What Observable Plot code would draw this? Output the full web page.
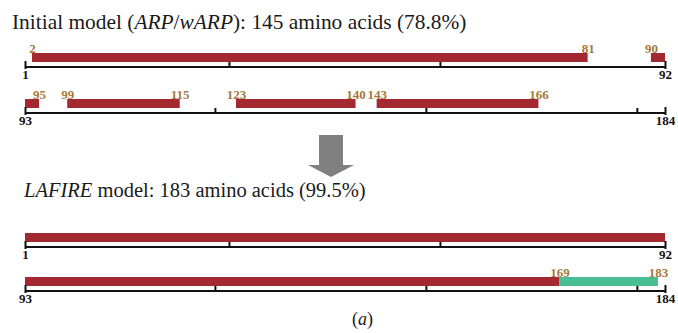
<!DOCTYPE html>
<html>
<head>
<meta charset="utf-8">
<script src="https://cdn.jsdelivr.net/npm/d3@7"></script>
<script src="https://cdn.jsdelivr.net/npm/@observablehq/plot@0.6"></script>
<style>
  html, body { margin: 0; padding: 0; background: #fff; }
  #root { position: relative; width: 678px; height: 333px; overflow: hidden; font-family: "Liberation Serif", "Times New Roman", serif; color: #1a1a1a; }
  #root svg, #root svg text { font-family: "Liberation Serif", "Times New Roman", serif !important; }
  .abs { position: absolute; }
  .title { font-size: 21.4px; line-height: 1; white-space: nowrap; left: 12px; }
  .title2 { font-size: 20.5px; }
  .caption { font-size: 18px; line-height: 1; white-space: nowrap; }
  .shaft { background: #808080; }
  .head { width: 0; height: 0; border-left: 23px solid transparent; border-right: 23px solid transparent; border-top: 12px solid #808080; }
</style>
</head>
<body>
<div id="root"></div>
<script>
// ---------- data ----------
const rowRanges = [[1, 92], [93, 184]];           // residue range of each printed line
const tickMarks = [[30, 60], [120, 150, 180]];     // unlabeled interior ticks per line

// Initial model (ARP/wARP): traced fragments (first, last residue)
const initialStarts = [2, 90, 93, 99, 123, 143];
const initialEnds   = [81, 92, 95, 115, 140, 166];
const initialLabels = [2, 81, 90, 95, 99, 115, 123, 140, 143, 166];

// LAFIRE model
const lafireStarts = [1, 93, 169];
const lafireEnds   = [92, 169, 183];
const lafireKinds  = ["initial", "initial", "added"];
const lafireLabels = [169, 183];

const titleInitial = ["Initial model (", "ARP", "/", "wARP", "): 145 amino acids (78.8%)"];
const titleLafire  = ["LAFIRE", " model: 183 amino acids (99.5%)"];
const captionText  = "a";

// ---------- build ----------
const RED = "#A3282F", GREEN = "#48BE94", GOLD = "#A5783A";
const initialSegs = initialStarts.map((s, i) => ({start: s, end: initialEnds[i], kind: "initial"}));
const lafireSegs = lafireStarts.map((s, i) => ({start: s, end: lafireEnds[i], kind: lafireKinds[i]}));

function rowPlot(range, ticks, segs, labels) {
  const [start, end] = range;
  const inRow = segs.filter(d => d.start >= start && d.end <= end);
  const lab = labels.filter(v => v >= start && v <= end);
  return Plot.plot({
    width: 678, height: 47,
    marginLeft: 25, marginRight: 13, marginTop: 20, marginBottom: 12,
    style: {fontFamily: "Liberation Serif", background: "transparent", overflow: "visible"},
    x: {domain: [start, end]},
    color: {domain: ["initial", "added"], range: [RED, GREEN]},
    marks: [
      Plot.barX([{start, end}], {x1: "start", x2: "end", fill: "#111", insetTop: 13}),
      Plot.barX(inRow, {x1: "start", x2: "end", fill: "kind", insetBottom: 6}),
      Plot.tickX(ticks, {x: d => d, stroke: "#111", strokeWidth: 2, insetTop: 9, insetBottom: 1}),
      Plot.tickX([start, end], {x: d => d, stroke: "#111", strokeWidth: 2, insetTop: 8, insetBottom: -1}),
      Plot.text(lab, {x: d => d, text: d => String(d), frameAnchor: "top", lineAnchor: "bottom", dy: -1,
        fill: GOLD, fontWeight: "bold", fontSize: 13}),
      Plot.axisX({ticks: [start, end], tickSize: 0, tickPadding: 1, fontWeight: "bold", fontSize: 13,
        fill: "#111", label: null})
    ]
  });
}

const root = document.getElementById("root");
function place(el, top, left = 0) {
  const w = document.createElement("div");
  w.className = "abs";
  w.style.top = top + "px";
  w.style.left = left + "px";
  w.appendChild(el);
  root.appendChild(w);
  return w;
}

// Title 1
const t1 = document.createElement("div");
t1.className = "abs title";
t1.style.top = "12px";
titleInitial.forEach((s, i) => {
  const e = document.createElement(i === 1 || i === 3 ? "i" : "span");
  e.textContent = s;
  t1.appendChild(e);
});
root.appendChild(t1);

place(rowPlot(rowRanges[0], tickMarks[0], initialSegs, initialLabels), 33);
place(rowPlot(rowRanges[1], tickMarks[1], initialSegs, initialLabels), 79);

// arrow
const shaft = document.createElement("div");
shaft.className = "abs shaft";
Object.assign(shaft.style, {left: "319px", top: "135px", width: "24px", height: "30px"});
root.appendChild(shaft);
const head = document.createElement("div");
head.className = "abs head";
Object.assign(head.style, {left: "308px", top: "165px"});
root.appendChild(head);

// Title 2
const t2 = document.createElement("div");
t2.className = "abs title title2";
t2.style.top = "180px";
t2.style.left = "24px";
titleLafire.forEach((s, i) => {
  const e = document.createElement(i === 0 ? "i" : "span");
  e.textContent = s;
  t2.appendChild(e);
});
root.appendChild(t2);

place(rowPlot(rowRanges[0], tickMarks[0], lafireSegs, lafireLabels), 213);
place(rowPlot(rowRanges[1], tickMarks[1], lafireSegs, lafireLabels), 257);

// caption
const cap = document.createElement("div");
cap.className = "abs caption";
Object.assign(cap.style, {left: "352px", top: "310px"});
cap.append("(");
const ci = document.createElement("i"); ci.textContent = captionText; cap.append(ci);
cap.append(")");
root.appendChild(cap);
</script>
</body>
</html>
